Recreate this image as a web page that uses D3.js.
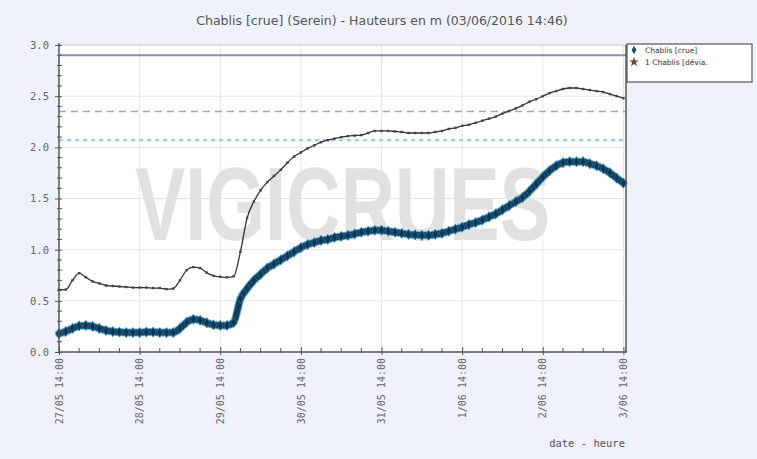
<!DOCTYPE html>
<html><head><meta charset="utf-8">
<script src="https://cdn.jsdelivr.net/npm/d3@7"></script>
<style>body{margin:0;background:#eff2fa;} svg{display:block;}</style>
</head><body>
<svg id="c" width="757" height="459"></svg>
<script>
const title = "Chablis [crue] (Serein) - Hauteurs en m (03/06/2016 14:46)";
const startTime = "2016-05-27T14:00";
const endTime = "2016-06-03T14:46";
const stepHours = 2;
const hauteurCrue = [0.18,0.20,0.23,0.255,0.26,0.25,0.23,0.21,0.20,0.195,0.19,0.19,0.19,0.195,0.195,0.19,0.19,0.19,0.23,0.29,0.32,0.31,0.285,0.265,0.26,0.26,0.29,0.52,0.62,0.70,0.76,0.82,0.86,0.90,0.94,0.98,1.02,1.05,1.07,1.09,1.10,1.12,1.13,1.14,1.155,1.17,1.18,1.19,1.19,1.18,1.17,1.16,1.15,1.145,1.14,1.14,1.15,1.16,1.18,1.20,1.22,1.245,1.265,1.29,1.32,1.35,1.39,1.43,1.47,1.51,1.57,1.64,1.71,1.77,1.82,1.85,1.86,1.86,1.86,1.84,1.82,1.79,1.75,1.70,1.65];
const hauteurDevia = [0.61,0.61,0.70,0.77,0.73,0.69,0.67,0.65,0.645,0.64,0.635,0.63,0.63,0.63,0.625,0.625,0.615,0.62,0.70,0.80,0.83,0.82,0.775,0.745,0.735,0.73,0.74,0.98,1.31,1.47,1.58,1.66,1.72,1.78,1.85,1.91,1.95,1.99,2.02,2.05,2.07,2.085,2.10,2.11,2.115,2.12,2.14,2.16,2.16,2.16,2.155,2.15,2.14,2.14,2.14,2.14,2.15,2.16,2.18,2.19,2.21,2.22,2.24,2.26,2.28,2.30,2.33,2.355,2.38,2.41,2.445,2.47,2.50,2.53,2.55,2.57,2.58,2.58,2.57,2.56,2.55,2.54,2.52,2.50,2.48];
const seuils = [2.9, 2.35, 2.07];
const yTicks = [0.0,0.5,1.0,1.5,2.0,2.5,3.0];
const xTickLabels = ["27/05 14:00","28/05 14:00","29/05 14:00","30/05 14:00","31/05 14:00","1/06 14:00","2/06 14:00","3/06 14:00"];
const legendLabels = ["Chablis [crue]","1 Chablis [dévia."];

const svg = d3.select("#c");
const L=59, R=626, T=45, B=352;
const parse = d3.timeParse("%Y-%m-%dT%H:%M");
const t0 = parse(startTime), t1 = parse(endTime);
const x = d3.scaleTime().domain([t0,t1]).range([L,R]);
const y = d3.scaleLinear().domain([0,3]).range([B,T]);
const timeAt = i => d3.timeHour.offset(t0, i*stepHours);
const crue = hauteurCrue.map((v,i)=>({t:timeAt(i),v}));
const devia = hauteurDevia.map((v,i)=>({t:timeAt(i),v}));
const dayTicks = xTickLabels.map((s,i)=>d3.timeDay.offset(t0,i));

svg.append("rect").attr("x",L).attr("y",T).attr("width",R-L).attr("height",B-T).attr("fill","#fff");

// grid
svg.append("g").selectAll("line").data(yTicks.slice(1)).join("line")
  .attr("x1",L).attr("x2",R).attr("y1",d=>y(d)).attr("y2",d=>y(d)).attr("stroke","#e4e4e8").attr("stroke-width",1);
svg.append("g").selectAll("line").data(dayTicks.slice(1)).join("line")
  .attr("x1",d=>x(d)).attr("x2",d=>x(d)).attr("y1",T).attr("y2",B).attr("stroke","#e4e4e8").attr("stroke-width",1);

// watermark
svg.append("text").attr("x",135).attr("y",240).attr("textLength",415).attr("lengthAdjust","spacingAndGlyphs")
  .attr("font-family","Liberation Sans, Arial, sans-serif").attr("font-weight","bold").attr("font-size",104)
  .attr("fill","#e1e1e1").text("VIGICRUES");

// thresholds
svg.append("line").attr("x1",L).attr("x2",R).attr("y1",y(seuils[0])).attr("y2",y(seuils[0])).attr("stroke","#8f8fb0").attr("stroke-width",2);
svg.append("line").attr("x1",L).attr("x2",R).attr("y1",y(seuils[1])).attr("y2",y(seuils[1])).attr("stroke","#a89fbf").attr("stroke-width",1.3).attr("stroke-dasharray","7,5");
svg.append("line").attr("x1",L).attr("x2",R).attr("y1",y(seuils[2])).attr("y2",y(seuils[2])).attr("stroke","#8cc8ec").attr("stroke-width",2).attr("stroke-dasharray","4,4");

// black series
const line = d3.line().x(d=>x(d.t)).y(d=>y(d.v)).curve(d3.curveMonotoneX);
svg.append("path").datum(devia).attr("d",line).attr("fill","none").attr("stroke","#333").attr("stroke-width",1.3);
svg.append("g").selectAll("rect").data(devia).join("rect")
  .attr("x",d=>x(d.t)-1.2).attr("y",d=>y(d.v)-1.2).attr("width",2.4).attr("height",2.4).attr("fill","#444");

// blue series
svg.append("path").datum(crue).attr("d",line).attr("fill","none").attr("stroke","#5fb4dc").attr("stroke-width",8).attr("stroke-linecap","round");
svg.append("path").datum(crue).attr("d",line).attr("fill","none").attr("stroke","#123e5c").attr("stroke-width",6).attr("stroke-linecap","round");
const diamond = d3.symbol().type(d3.symbolDiamond).size(30);
svg.append("g").selectAll("path").data(crue).join("path")
  .attr("transform",d=>`translate(${x(d.t)},${y(d.v)})`).attr("d",diamond).attr("fill","#0e3552").attr("stroke","#2f7fa8").attr("stroke-width",0.6);

// axes frame
svg.append("line").attr("x1",L).attr("x2",R).attr("y1",T).attr("y2",T).attr("stroke","#d0d0d8");
svg.append("line").attr("x1",L).attr("x2",L).attr("y1",T-2).attr("y2",B).attr("stroke","#555").attr("stroke-width",1.5);
svg.append("line").attr("x1",L).attr("x2",R+1).attr("y1",B).attr("y2",B).attr("stroke","#555").attr("stroke-width",1.5);
svg.append("line").attr("x1",R).attr("x2",R).attr("y1",T).attr("y2",B).attr("stroke","#555").attr("stroke-width",1.5);

// y axis
const yAxis = d3.axisLeft(y).tickValues(yTicks).tickFormat(d3.format(".1f")).tickSize(4).tickPadding(6);
const gy = svg.append("g").attr("transform",`translate(${L},0)`).call(yAxis);
gy.select(".domain").remove();
gy.selectAll(".tick line").attr("stroke","#555").attr("x2",-4).attr("x1",3);
gy.selectAll("text").attr("font-family","DejaVu Sans Mono, monospace").attr("font-size",10.5).attr("fill","#666");
const yMinor = d3.range(1,30).filter(i=>i%5!==0).map(i=>i/10);
svg.append("g").selectAll("line").data(yMinor).join("line")
  .attr("x1",L-2).attr("x2",L+3).attr("y1",d=>y(d)).attr("y2",d=>y(d)).attr("stroke","#555");

// x axis
const xAxis = d3.axisBottom(x).tickValues(dayTicks).tickFormat((d,i)=>xTickLabels[i]).tickSize(4).tickPadding(6);
const gx = svg.append("g").attr("transform",`translate(0,${B})`).call(xAxis);
gx.select(".domain").remove();
gx.selectAll(".tick line").attr("stroke","#555").attr("y1",-5).attr("y2",3);
gx.selectAll("text").attr("font-family","DejaVu Sans Mono, monospace").attr("font-size",10).attr("fill","#666")
  .attr("transform","rotate(-90)").attr("text-anchor","end").attr("dx","-6").attr("dy","0.32em").attr("x",0).attr("y",0);
const xMinor = d3.range(1,29).filter(i=>i%4!==0).map(i=>d3.timeHour.offset(t0,i*6));
svg.append("g").selectAll("line").data(xMinor).join("line")
  .attr("x1",d=>x(d)).attr("x2",d=>x(d)).attr("y1",B-4).attr("y2",B+1).attr("stroke","#555");

svg.append("text").attr("x",625).attr("y",447).attr("text-anchor","end")
  .attr("font-family","DejaVu Sans Mono, monospace").attr("font-size",10.5).attr("fill","#555").text("date - heure");

// title
svg.append("text").attr("x",382).attr("y",25).attr("text-anchor","middle")
  .attr("font-family","DejaVu Sans, sans-serif").attr("font-size",12.5).attr("fill","#555").text(title);

// legend
const lg = svg.append("g");
lg.append("rect").attr("x",627).attr("y",44).attr("width",125).attr("height",38).attr("fill","#fff").attr("stroke","#555").attr("stroke-width",1.2);
lg.append("path").attr("transform","translate(634,50)").attr("d",d3.symbol().type(d3.symbolDiamond).size(22)).attr("fill","#1b4f78");
lg.append("path").attr("transform","translate(634,62)").attr("d",d3.symbol().type(d3.symbolStar).size(30)).attr("fill","#6b4a2a");
lg.selectAll("text.l").data(legendLabels).join("text").attr("class","l")
  .attr("x",645).attr("y",(d,i)=>53+i*12).attr("font-family","DejaVu Sans, sans-serif").attr("font-size",7.5).attr("fill","#333").text(d=>d);
</script>
</body></html>
